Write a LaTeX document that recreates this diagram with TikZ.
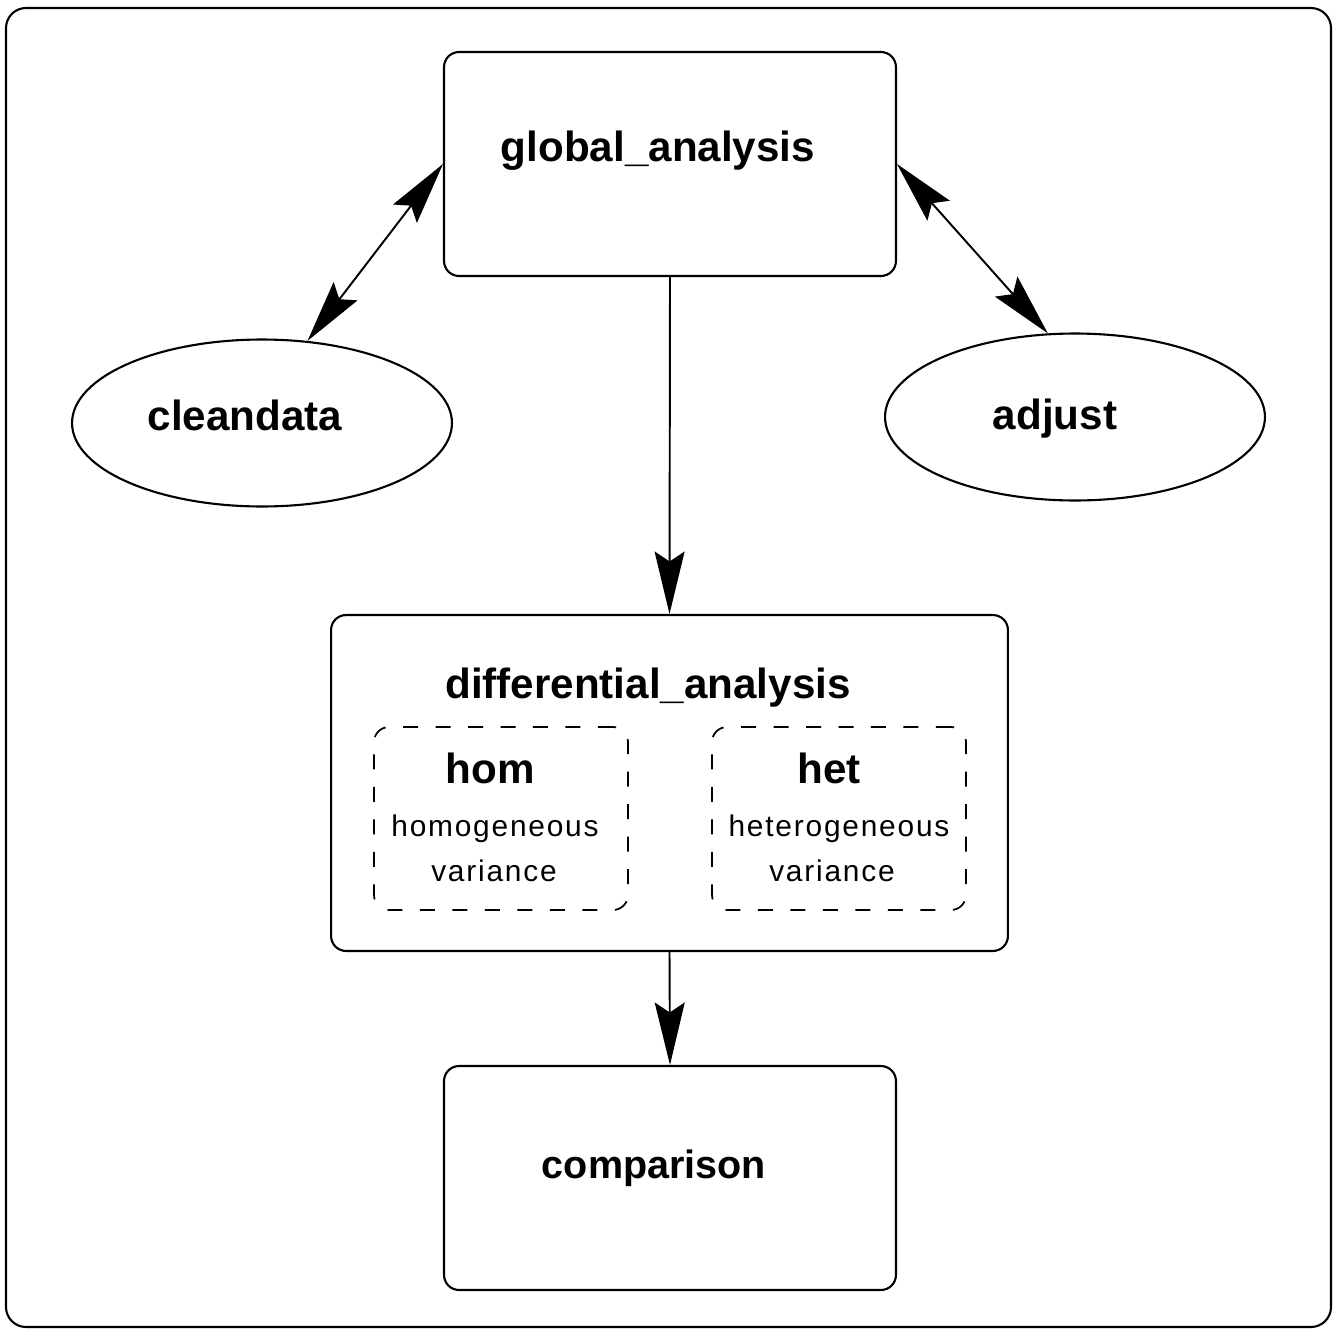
\documentclass[tikz,border=0pt]{standalone}
\usepackage{fontspec}
\setmainfont{Liberation Sans}
\newfontfamily\spacedfont[LetterSpace=6]{Liberation Sans}
\usetikzlibrary{shapes.geometric,arrows.meta}
\begin{document}
\begin{tikzpicture}[x=0.02cm,y=-0.02cm,
  box/.style={draw, line width=1.2pt, rounded corners=0.3cm, inner sep=0pt},
  dbox/.style={draw, line width=1pt, rounded corners=0.3cm, inner sep=0pt, dash pattern=on 0.3cm off 0.35cm},
  oval/.style={draw, line width=1.2pt, ellipse, inner sep=0pt},
  title/.style={font=\fontsize{24}{28}\selectfont\bfseries, inner sep=0pt},
  small/.style={font=\fontsize{17}{20}\selectfont\spacedfont, inner sep=0pt},
  arr/.style={line width=1.1pt, -{Stealth[length=1.25cm, width=0.6cm, inset=0.2cm]}},
  darr/.style={line width=1.1pt, {Stealth[length=1.25cm, width=0.6cm, inset=0.2cm]}-{Stealth[length=1.25cm, width=0.6cm, inset=0.2cm]}}
]
\useasboundingbox (0,0) rectangle (1333,1329);
\draw[line width=1.2pt, rounded corners=0.4cm] (6,8) rectangle (1331,1327);

% global_analysis
\node[box, minimum width=9.04cm, minimum height=4.48cm] (ga) at (670,164) {};
\node[title] (gat) at (658,151) {global\_analysis};

% cleandata
\node[oval, minimum width=7.6cm, minimum height=3.34cm] (cl) at (262,423) {};
\node[title] (clt) at (245,415) {cleandata};

% adjust
\node[oval, minimum width=7.6cm, minimum height=3.34cm] (ad) at (1075,417) {};
\node[title] (adt) at (1055,419) {adjust};

% differential_analysis
\node[box, minimum width=13.54cm, minimum height=6.72cm] (da) at (669.5,783) {};
\node[title] (dat) at (648,688) {differential\_analysis};

% hom
\node[dbox, minimum width=5.08cm, minimum height=3.66cm] (hom) at (501,818.5) {};
\node[title] (homt) at (490,768) {hom};
\node[small] (homa) at (495,829) {homogeneous};
\node[small] (homb) at (494,871) {variance};

% het
\node[dbox, minimum width=5.08cm, minimum height=3.66cm] (het) at (839,818.5) {};
\node[title] (hett) at (829,768) {het};
\node[small] (heta) at (839,829) {heterogeneous};
\node[small] (hetb) at (832,871) {variance};

% comparison
\node[box, minimum width=9.04cm, minimum height=4.48cm] (cmp) at (670,1178) {};
\node[title, font=\fontsize{22.5}{26}\selectfont\bfseries] (cmpt) at (654,1168) {comparison};

% connectors
\draw[darr] (ga.west) -- (cl.61);
\draw[darr] (ga.east) -- (ad.108);
\draw[arr] (ga.south) -- (da.north);
\draw[arr] (da.south) -- (cmp.north);
\end{tikzpicture}
\end{document}
